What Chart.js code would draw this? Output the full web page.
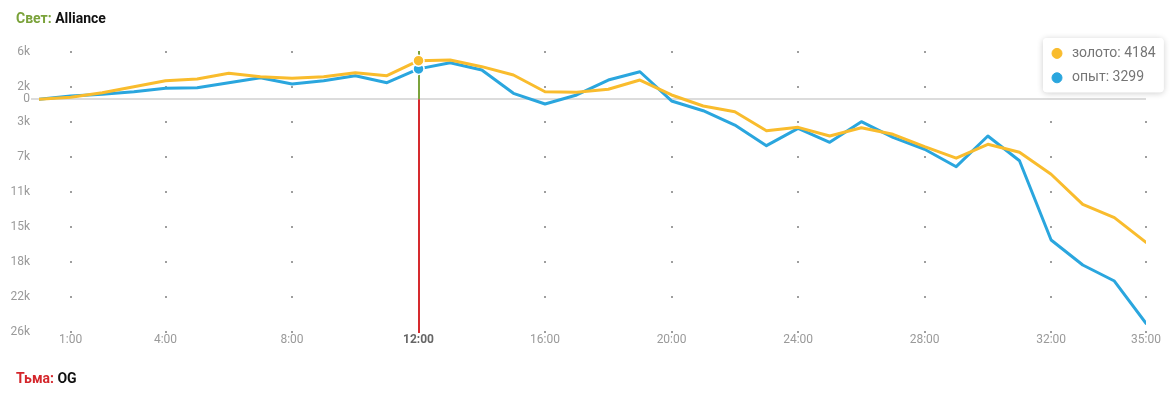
<!DOCTYPE html>
<html><head><meta charset="utf-8">
<style>
html,body{margin:0;padding:0;background:#fff;}
#wrap{position:relative;width:1171px;height:396px;overflow:hidden;}
canvas{position:absolute;left:0;top:0;}
.side{position:absolute;left:16px;font:bold 14px Roboto, sans-serif;line-height:16px;color:#111;white-space:nowrap;}
#top{top:10px;} #bottom{top:370px;}
.light{color:#7aa23a;} .dark{color:#d4262b;}
</style>
<script src="https://cdn.jsdelivr.net/npm/chart.js@4"></script>
</head><body>
<div id="wrap"><canvas id="c" width="1171" height="396"></canvas>
<div class="side" id="top"><span class="light">Свет:</span> Alliance</div>
<div class="side" id="bottom"><span class="dark">Тьма:</span> OG</div></div>
<script>
const minutes = [0,1,2,3,4,5,6,7,8,9,10,11,12,13,14,15,16,17,18,19,20,21,22,23,24,25,26,27,28,29,30,31,32,33,34,35];
const gold = [0,220,720,1370,2020,2200,2820,2450,2280,2450,2890,2560,4184,4260,3540,2640,820,760,1090,2090,470,-730,-1350,-3410,-3040,-3980,-3080,-3800,-5140,-6380,-4880,-5750,-8130,-11390,-12840,-15510];
const xp = [0,360,540,820,1190,1260,1800,2340,1660,2020,2560,1800,3299,3970,3180,650,-510,470,2090,2990,-180,-1240,-2790,-5030,-3150,-4660,-2430,-4120,-5420,-7310,-3980,-6660,-15260,-17970,-19710,-24300];
const seriesNames = ['золото','опыт'];
const seriesColors = ['#f9bc2d','#2aa6de'];
const xTickMinutes = [1,4,8,12,16,20,24,28,32,35];
const xTickLabels = ['1:00','4:00','8:00','12:00','16:00','20:00','24:00','28:00','32:00','35:00'];
const yTickValues = [5163,1367,0,-2430,-6226,-10022,-13818,-17614,-21410,-25206];
const yTickLabels = ['6k','2k','0','3k','7k','11k','15k','18k','22k','26k'];
const yMin = -25347, yMax = 5239;
const activeMinute = 12;
const lightColor = '#7ca33c', darkColor = '#d62a2e';

Chart.Tooltip.positioners.corner = function() {
  const a = this.chart.chartArea;
  return {x: a.right - 99, y: a.top - 13};
};

const crosshair = {
  id: 'crosshair',
  beforeDatasetsDraw(chart) {
    const {ctx, chartArea, scales} = chart;
    const px = Math.round(scales.x.getPixelForValue(activeMinute));
    const zy = scales.y.getPixelForValue(0);
    ctx.save();
    ctx.lineWidth = 2;
    ctx.strokeStyle = lightColor;
    ctx.beginPath(); ctx.moveTo(px, chartArea.top); ctx.lineTo(px, zy); ctx.stroke();
    ctx.strokeStyle = darkColor;
    ctx.beginPath(); ctx.moveTo(px, zy); ctx.lineTo(px, chartArea.bottom); ctx.stroke();
    ctx.restore();
  }
};
const tipShadow = {
  id: 'tipShadow',
  beforeTooltipDraw(chart, args) {
    const t = args.tooltip, ctx = chart.ctx;
    if (!t.opacity) return;
    ctx.save();
    ctx.shadowColor = 'rgba(0,0,0,0.2)';
    ctx.shadowBlur = 6; ctx.shadowOffsetY = 1;
    ctx.fillStyle = '#fff';
    ctx.beginPath(); ctx.roundRect(t.x, t.y, t.width, t.height, 4); ctx.fill();
    ctx.restore();
  }
};

const mk = (name, vals, color) => ({
  label: name,
  data: minutes.map((m, i) => ({x: m, y: vals[i]})),
  borderColor: color, backgroundColor: color,
  borderWidth: 3, tension: 0, pointRadius: 0,
  pointHoverRadius: 5.5, pointHoverBorderWidth: 1.5,
  pointHoverBackgroundColor: color, pointHoverBorderColor: '#fff',
  borderJoinStyle: 'round', borderCapStyle: 'round'
});

const chart = new Chart(document.getElementById('c'), {
  type: 'line',
  data: { datasets: [mk(seriesNames[0], gold, seriesColors[0]), mk(seriesNames[1], xp, seriesColors[1])] },
  plugins: [crosshair, tipShadow],
  options: {
    responsive: false, animation: false,
    events: [],
    layout: { padding: {top: 51, right: 25, bottom: 0, left: 0} },
    plugins: {
      legend: {display: false},
      title: {display: false},
      tooltip: {
        enabled: true, position: 'corner', xAlign: 'left', yAlign: 'top',
        backgroundColor: '#fff', bodyColor: '#757575',
        bodyFont: {family: 'Roboto', size: 14, lineHeight: 1.2},
        padding: {top: 7, bottom: 6, left: 9, right: 8},
        caretSize: 0, caretPadding: 0, cornerRadius: 4, borderWidth: 0,
        displayColors: true, usePointStyle: true, boxWidth: 10, boxHeight: 10, boxPadding: 8,
        bodySpacing: 7.6,
        callbacks: {
          title: () => [],
          label: c => c.dataset.label + ': ' + c.parsed.y,
          labelColor: c => ({borderColor: c.dataset.borderColor, backgroundColor: c.dataset.borderColor}),
          labelPointStyle: () => ({pointStyle: 'circle', rotation: 0})
        }
      }
    },
    scales: {
      x: {
        type: 'linear', min: 0, max: 35,
        afterBuildTicks: s => { s.ticks = xTickMinutes.map(v => ({value: v})); },
        afterFit: s => { s.height = 63; },
        grid: {color: '#9e9e9e', lineWidth: 2, drawTicks: false},
        border: {display: false, dash: [2, 33], dashOffset: 0},
        ticks: {
          autoSkip: false, maxRotation: 0, padding: 0,
          callback: v => xTickLabels[xTickMinutes.indexOf(v)],
          color: c => c.tick && c.tick.value === activeMinute ? '#666' : '#9a9a9a',
          font: c => ({family: 'Roboto', size: 12, weight: c.tick && c.tick.value === activeMinute ? 'bold' : 'normal'})
        }
      },
      y: {
        type: 'linear', min: yMin, max: yMax,
        afterBuildTicks: s => { s.ticks = yTickValues.map(v => ({value: v})); },
        afterFit: s => { s.width = 39; },
        grid: {
          color: c => c.tick && c.tick.value === 0 ? '#dcdcdc' : 'rgba(0,0,0,0)',
          tickColor: c => c.tick && c.tick.value === 0 ? '#dcdcdc' : 'rgba(0,0,0,0)',
          lineWidth: 2, tickLength: 8
        },
        border: {display: false},
        ticks: {
          autoSkip: false, padding: 1,
          callback: v => yTickLabels[yTickValues.indexOf(v)],
          color: '#9a9a9a',
          font: {family: 'Roboto', size: 12}
        }
      }
    }
  }
});
const act = [{datasetIndex: 0, index: activeMinute}, {datasetIndex: 1, index: activeMinute}];
chart.setActiveElements(act);
chart.tooltip.setActiveElements(act, {x: 0, y: 0});
chart.update();
</script>
</body></html>
